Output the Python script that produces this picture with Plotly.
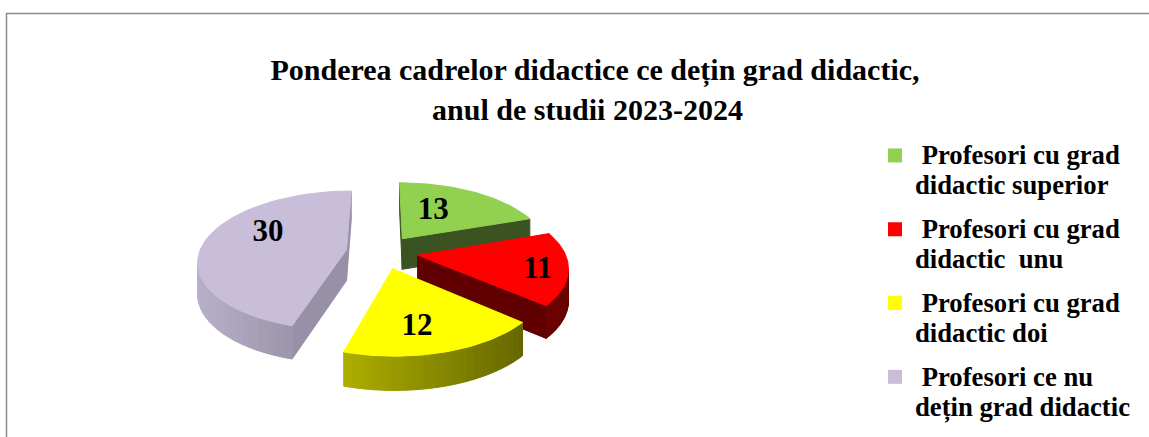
import math
import plotly.graph_objects as go

# ---- data ----
categories = ["Profesori cu grad didactic superior", "Profesori cu grad didactic  unu",
              "Profesori cu grad didactic doi", "Profesori ce nu dețin grad didactic"]
legend_lines = [("\u00a0Profesori cu grad", "didactic superior"), ("\u00a0Profesori cu grad", "didactic \u00a0unu"),
                ("\u00a0Profesori cu grad", "didactic doi"), ("\u00a0Profesori ce nu", "dețin grad didactic")]
values = [13, 11, 12, 30]
title_lines = ["Ponderea cadrelor didactice ce dețin grad didactic,", "anul de studii 2023-2024\u00a0\u00a0"]

# ---- styles ----
colors = [(146, 208, 80), (255, 0, 0), (255, 255, 0), (200, 190, 218)]
radial_shade = [0.40, 0.38, 0.45, 0.76]
arc_shade = [(0.4, 0.4), (0.45, 0.42), (0.68, 0.40), (0.92, 0.70)]
label_angle = [24.8, 101.5, 168.4, 299]
label_radius = [0.584, 0.80, 0.674, 0.658]
LABEL_DY = 4

# ---- projection of the tilted pie ----
CX, CY, RX, RY, PERSP, EXPLODE, DEPTH = 382, 252, 147, 68.3, 0.154, 0.245, 31


def project(u, v):
    w = 1 + PERSP * v
    return CX + RX * u / w, CY - RY * v / w


def drop(v):
    return DEPTH / (1 + 0.5 * PERSP * v)


def rgb(c, k=1.0):
    return "rgb(%d,%d,%d)" % tuple(round(x * k) for x in c)


total = sum(values)
fig = go.Figure()


def poly(xs, ys, color):
    fig.add_trace(go.Scatter(x=xs + xs[:1], y=ys + ys[:1], mode="lines", fill="toself", fillcolor=color,
                             line=dict(color=color, width=1), hoverinfo="skip", showlegend=False))


sectors = []
start = 0.0
for i, val in enumerate(values):
    sweep = 360.0 * val / total
    sectors.append((i, start, sweep))
    start += sweep

draw_order = [0, 3, 1, 2]  # far to near
for i in draw_order:
    _, a0, sweep = sectors[i]
    mid = math.radians(a0 + sweep / 2)
    ox, oy = EXPLODE * math.sin(mid), EXPLODE * math.cos(mid)
    n = 48
    ground = [(ox, oy)]
    for k in range(n + 1):
        t = math.radians(a0 + sweep * k / n)
        ground.append((ox + math.sin(t), oy + math.cos(t)))
    m = len(ground)
    pts = [project(u, v) for u, v in ground]
    low = [(p[0], p[1] + drop(g[1])) for p, g in zip(pts, ground)]
    xmin, xmax = min(p[0] for p in pts), max(p[0] for p in pts)
    for a in range(m):
        b = (a + 1) % m
        if pts[b][0] < pts[a][0]:
            radial = a == 0 or b == 0
            if radial:
                k = radial_shade[i]
            else:
                f = ((pts[a][0] + pts[b][0]) / 2 - xmin) / max(xmax - xmin, 1)
                k = arc_shade[i][0] + (arc_shade[i][1] - arc_shade[i][0]) * f
            poly([pts[a][0], pts[b][0], low[b][0], low[a][0]],
                 [pts[a][1], pts[b][1], low[b][1], low[a][1]], rgb(colors[i], k))
    poly([p[0] for p in pts], [p[1] for p in pts], rgb(colors[i]))

# value labels
lx, ly = [], []
for i, a0, sweep in sectors:
    mid = math.radians(a0 + sweep / 2)
    la = math.radians(label_angle[i])
    u = EXPLODE * math.sin(mid) + label_radius[i] * math.sin(la)
    v = EXPLODE * math.cos(mid) + label_radius[i] * math.cos(la)
    x, y = project(u, v)
    lx.append(x)
    ly.append(y + LABEL_DY)
fig.add_trace(go.Scatter(x=lx, y=ly, mode="text", text=[str(v) for v in values], hoverinfo="skip", showlegend=False,
                         textfont=dict(family="Liberation Serif", size=31, color="black", weight="bold")))

# legend
span = '<span style="font-size:26.7px">%s</span>'
for i, (l1, l2) in enumerate(legend_lines):
    fig.add_trace(go.Scatter(x=[None], y=[None], mode="markers", name=span % l1 + "<br>" + span % l2,
                             legendgroup=categories[i],
                             marker=dict(symbol="square", size=14, color=rgb(colors[i]))))

fig.update_layout(
    width=1149, height=437, margin=dict(l=0, r=0, t=0, b=0),
    paper_bgcolor="white", plot_bgcolor="white",
    xaxis=dict(range=[0, 1149], visible=False, fixedrange=True),
    yaxis=dict(range=[437, 0], visible=False, fixedrange=True),
    title=dict(
        text='<span style="font-size:30px">%s</span><br><span style="font-size:30px">%s</span>' % tuple(title_lines),
        x=595 / 1149, xanchor="center", y=1 - 79.5 / 437, yanchor="middle",
        font=dict(family="Liberation Serif", size=31.5, color="black", weight="bold")),
    legend=dict(x=875 / 1149, xanchor="left", y=1 - 134 / 437, yanchor="top", tracegroupgap=11, valign="top",
                bgcolor="rgba(0,0,0,0)", itemclick=False, itemdoubleclick=False,
                font=dict(family="Liberation Serif", size=23, color="black", weight="bold")),
    shapes=[dict(type="rect", xref="paper", yref="paper", x0=6.5 / 1149, x1=1.2, y0=-0.2, y1=1 - 13.5 / 437,
                 line=dict(color="#8c8c8c", width=1.5), layer="below")],
)
fig.write_html("out.html", config=dict(displayModeBar=False), post_script="document.body.style.margin='0';")
